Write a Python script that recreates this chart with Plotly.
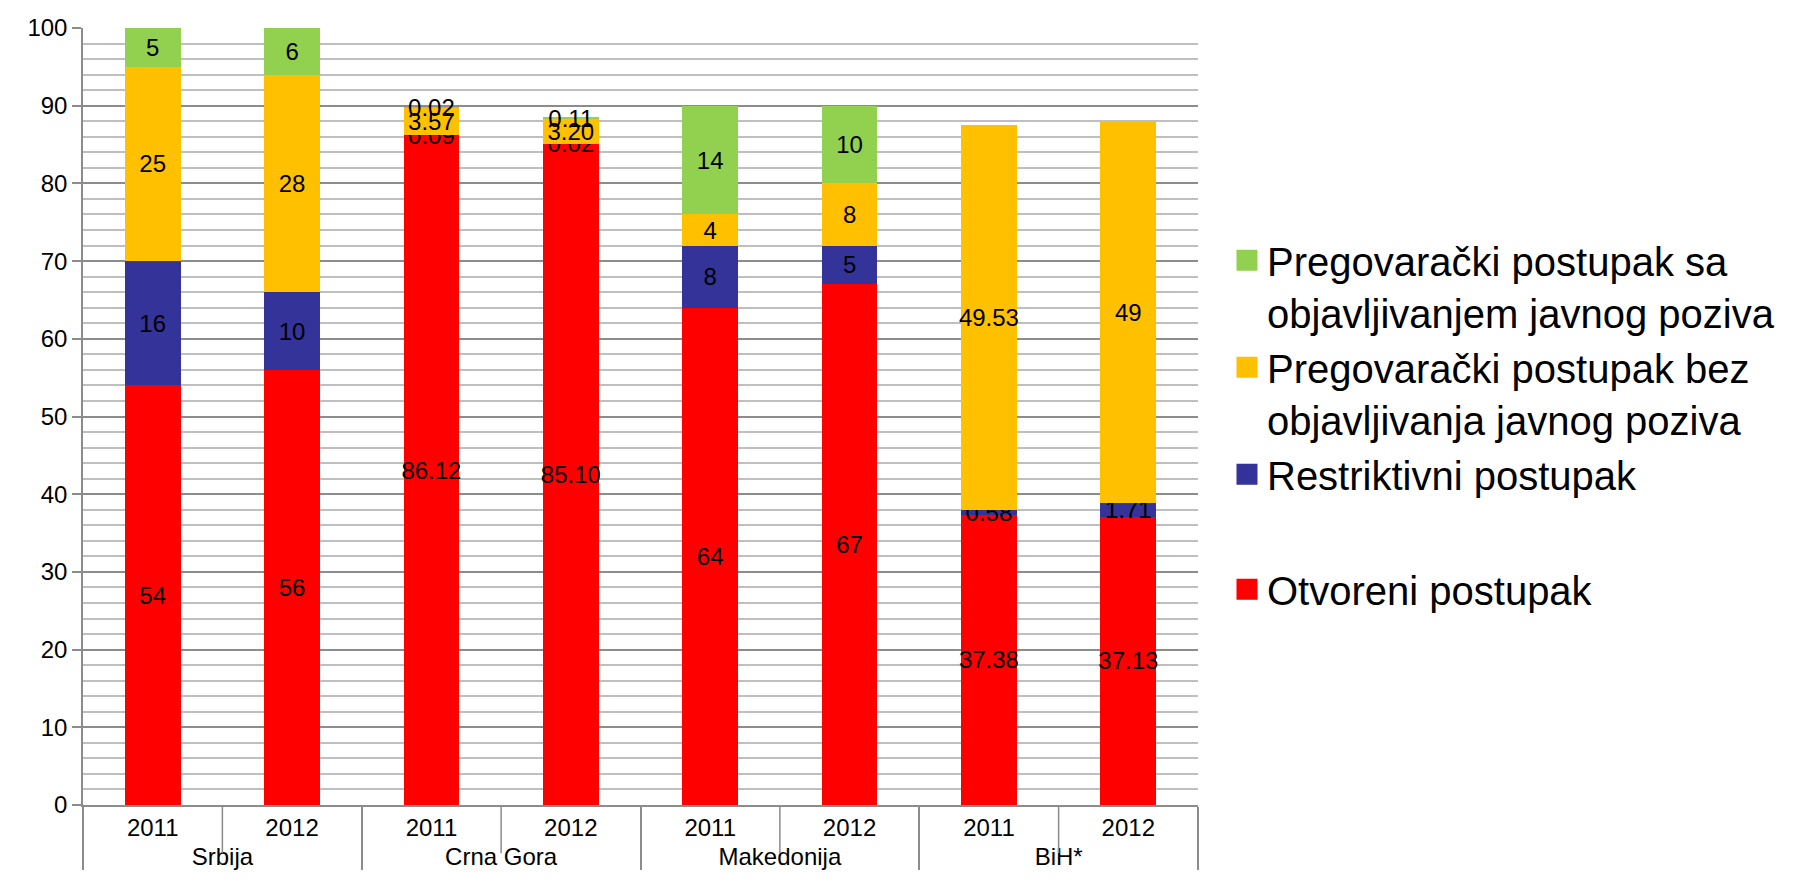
import plotly.graph_objects as go

countries = ["Srbija", "Srbija", "Crna Gora", "Crna Gora", "Makedonija", "Makedonija", "BiH*", "BiH*"]
years = ["2011", "2012", "2011", "2012", "2011", "2012", "2011", "2012"]

otvoreni = [54, 56, 86.12, 85.10, 64, 67, 37.38, 37.13]
restriktivni = [16, 10, 0.09, 0.02, 8, 5, 0.58, 1.71]
bez_objave = [25, 28, 3.57, 3.20, 4, 8, 49.53, 49]
sa_objavom = [5, 6, 0.02, 0.11, 14, 10, 0, 0]

otvoreni_lbl = ["54", "56", "86.12", "85.10", "64", "67", "37.38", "37.13"]
restriktivni_lbl = ["16", "10", "0.09", "0.02", "8", "5", "0.58", "1.71"]
bez_objave_lbl = ["25", "28", "3.57", "3.20", "4", "8", "49.53", "49"]
sa_objavom_lbl = ["5", "6", "0.02", "0.11", "14", "10", "", ""]

series = [
    ("Otvoreni postupak", otvoreni, otvoreni_lbl, "#FF0000", "g2"),
    ("Restriktivni postupak", restriktivni, restriktivni_lbl, "#333399", "g1"),
    ("Pregovarački postupak bez<br>objavljivanja javnog poziva", bez_objave, bez_objave_lbl, "#FFC000", "g1"),
    ("Pregovarački postupak sa<br>objavljivanjem javnog poziva", sa_objavom, sa_objavom_lbl, "#92D050", "g1"),
]

FONT = "Liberation Sans, Arial, sans-serif"
fig = go.Figure()
for name, vals, lbls, col, grp in series:
    fig.add_trace(go.Bar(
        x=[countries, years], y=vals, name=name,
        marker=dict(color=col, line=dict(width=0)),
        text=lbls, texttemplate="%{text}", textposition="inside",
        insidetextanchor="middle", textangle=0,
        textfont=dict(color="black", size=24, family=FONT),
        constraintext="none", cliponaxis=False, showlegend=False,
    ))

# legend entries (larger square swatches), top-to-bottom order as in reference
for name, vals, lbls, col, grp in reversed(series):
    fig.add_trace(go.Scatter(
        x=[None], y=[None], mode="markers", name=name, legendgroup=grp,
        marker=dict(symbol="square", size=16, color=col, line=dict(color=col, width=5)),
        showlegend=True,
    ))

# short dividers between years inside each country
for xd in [0.5, 2.5, 4.5, 6.5]:
    fig.add_shape(type="line", xref="x", yref="paper", x0=xd, x1=xd, y0=0, y1=-0.062,
                  line=dict(color="#8C8C8C", width=1.5))

fig.update_layout(
    width=1812, height=893,
    barmode="stack", bargap=0.6,
    plot_bgcolor="white", paper_bgcolor="white",
    margin=dict(l=75, r=622, t=20, b=96),
    font=dict(family=FONT, size=24, color="black"),
    uniformtext=dict(minsize=24, mode="show"),
    legend=dict(
        x=1.026, y=0.743, xanchor="left", yanchor="top",
        font=dict(size=40, family=FONT, color="black"),
        valign="top", itemsizing="trace", traceorder="grouped", tracegroupgap=60,
        bgcolor="rgba(0,0,0,0)",
    ),
    xaxis=dict(
        type="multicategory", showline=True, linecolor="#8C8C8C", linewidth=1.5,
        showgrid=False, ticks="", showdividers=True, dividercolor="#8C8C8C", dividerwidth=1.5,
        tickfont=dict(size=24, family=FONT, color="black"), automargin=False,
    ),
    yaxis=dict(
        range=[0, 100], dtick=10, tick0=0, showline=True, linecolor="#8C8C8C", linewidth=1.5,
        ticks="outside", ticklen=9, tickcolor="#8C8C8C", tickwidth=1.5,
        showgrid=True, gridcolor="#8C8C8C", gridwidth=1.5, zeroline=False,
        minor=dict(dtick=2, showgrid=True, gridcolor="#BFBFBF", gridwidth=1.5, ticks=""),
        tickfont=dict(size=24, family=FONT, color="black"), automargin=False,
    ),
)

fig.write_html("out.html")
